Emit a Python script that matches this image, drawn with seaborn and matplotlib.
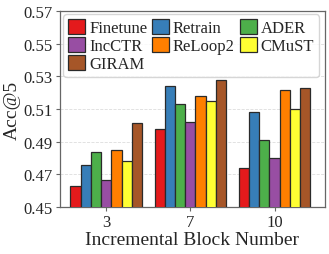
import pandas as pd
import numpy as np
import matplotlib
matplotlib.use("Agg")
import matplotlib.pyplot as plt
import seaborn as sns

blocks = ["3", "7", "10"]
methods = ["Finetune", "Retrain", "ADER", "IncCTR", "ReLoop2", "CMuST", "GIRAM"]
finetune = [0.463, 0.498, 0.474]
retrain = [0.476, 0.524, 0.508]
ader = [0.484, 0.513, 0.491]
incctr = [0.4665, 0.502, 0.480]
reloop2 = [0.485, 0.518, 0.5215]
cmust = [0.478, 0.515, 0.510]
giram = [0.5015, 0.528, 0.523]
colors = ["#e41a1c", "#377eb8", "#4daf4a", "#984ea3", "#ff7f00", "#ffff33", "#a65628"]

vals = [finetune, retrain, ader, incctr, reloop2, cmust, giram]
rows = []
for m, v in zip(methods, vals):
    for b, x in zip(blocks, v):
        rows.append({"block": b, "method": m, "acc": x})
df = pd.DataFrame(rows)

sns.set_style("white")
plt.rcParams['font.family'] = ['Liberation Serif', 'DejaVu Serif']

fig = plt.figure(figsize=(3.29, 2.55), dpi=100)
ax = fig.add_axes([0.182, 0.184, 0.806, 0.769])
sns.barplot(data=df, x="block", y="acc", hue="method", hue_order=methods,
            palette=colors, width=0.85, edgecolor="#2a2a2a", linewidth=0.9,
            saturation=1, ax=ax, zorder=3)

ax.set_ylim(0.45, 0.57)
ticks = np.arange(0.45, 0.5701, 0.02)
ax.set_yticks(ticks)
ax.set_yticklabels(["%.2f" % t for t in ticks])
ax.set_xlim(-0.55, 2.6)
ax.yaxis.grid(True, linestyle="--", color="#dddddd", linewidth=0.6, zorder=0)
ax.set_axisbelow(True)
for s in ax.spines.values():
    s.set_color("#666666")
    s.set_linewidth(0.9)
ax.tick_params(axis="both", labelsize=12, length=3, color="#666666", direction="out",
               left=True, bottom=True, pad=2)
ax.set_xlabel("Incremental Block Number", fontsize=14, labelpad=1)
ax.set_ylabel("Acc@5", fontsize=14, labelpad=2)

# legend is filled row by row in the reference
h, l = ax.get_legend_handles_labels()
order = [0, 3, 6, 1, 4, 2, 5]
ax.legend([h[i] for i in order], [l[i] for i in order], loc="upper left", ncol=3,
          fontsize=12, frameon=True, handlelength=1.0, handleheight=1.0,
          handletextpad=0.25, columnspacing=0.3, labelspacing=0.05,
          borderpad=0.3, borderaxespad=0.2, fancybox=True, edgecolor="#cccccc",
          bbox_to_anchor=(0.0, 1.0))

fig.savefig("out.png", dpi=100)
